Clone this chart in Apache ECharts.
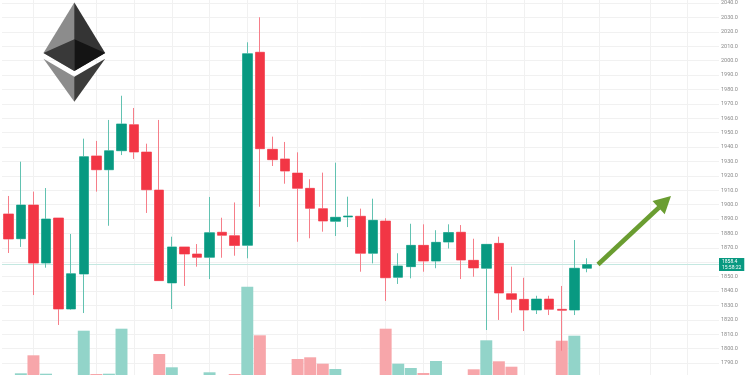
<!DOCTYPE html>
<html>
<head>
<meta charset="utf-8">
<script src="https://cdn.jsdelivr.net/npm/echarts@6/dist/echarts.min.js"></script>
<style>html,body{margin:0;padding:0;background:#fff;}#c{width:750px;height:375px;}</style>
</head>
<body>
<div id="c"></div>
<script>
// ---- data ----
const categories = ['1','2','3','4','5','6','7','8','9','10','11','12','13','14','15','16','17','18','19','20','21','22','23','24','25','26','27','28','29','30','31','32','33','34','35','36','37','38','39','40','41','42','43','44','45','46','47'];
const opens  = [1893.5,1876.3,1899.7,1859.4,1890.7,1827.5,1851.8,1933.8,1924.2,1937.4,1955.5,1936.5,1910.1,1845.6,1870.6,1865.7,1863.4,1880.8,1878.4,1871.7,2005.8,1938.4,1931.7,1921.9,1911.3,1897.2,1888.4,1891.4,1891.9,1866.2,1888.6,1849.5,1856.9,1871.7,1860.8,1874.0,1880.8,1861.3,1855.8,1873.1,1838.1,1834.2,1826.8,1834.4,1827.3,1826.8,1855.8];
const closes = [1876.1,1899.7,1859.4,1890.0,1827.5,1852.0,1933.3,1924.2,1937.4,1956.0,1936.5,1910.3,1847.2,1870.6,1865.7,1863.4,1880.5,1878.7,1871.6,2004.8,1938.8,1931.2,1923.3,1911.3,1897.4,1888.6,1891.2,1892.1,1866.2,1889.1,1849.2,1857.4,1871.7,1860.8,1873.8,1880.6,1861.5,1856.0,1872.4,1838.6,1834.2,1826.8,1834.4,1827.3,1826.6,1855.8,1858.4];
const lows   = [1866.4,1870.6,1837.2,1856.2,1816.4,1827.0,1824.7,1909.0,1885.3,1934.4,1931.7,1894.2,1847.2,1827.5,1843.5,1856.9,1848.3,1863.1,1864.5,1862.7,1898.5,1926.8,1914.5,1874.2,1876.6,1881.2,1878.2,1884.4,1853.4,1859.2,1833.1,1844.9,1848.8,1853.4,1855.8,1869.5,1848.3,1849.9,1812.9,1819.9,1824.9,1812.2,1824.0,1823.3,1798.5,1823.3,1853.0];
const highs  = [1906.0,1929.8,1909.0,1911.5,1890.7,1879.6,1945.8,1944.2,1958.8,1975.6,1967.1,1942.3,1958.8,1877.7,1870.6,1872.6,1905.3,1890.9,1901.5,2012.7,2030.1,1947.2,1943.5,1936.3,1917.6,1922.2,1929.1,1905.5,1897.2,1904.1,1890.5,1866.2,1886.7,1886.3,1882.2,1886.3,1885.8,1876.3,1872.6,1877.7,1856.9,1849.2,1836.7,1836.7,1843.5,1875.4,1862.7];
const volumes = [150,410,2210,370,120,180,4670,340,370,4870,150,200,2340,1010,160,120,510,140,340,9070,4210,180,200,1840,2010,1370,840,130,170,220,4870,1370,940,440,1640,150,200,810,3710,1610,1070,200,150,180,3670,4170,120];
const priceTicks = {min: 1780, max: 2050, step: 10};
const gridLineIndices = [2,7,10,13,16,19,23,26,30,33,38,41,44,47,51,54];
const countdown = '15:58:22';

// ---- styles ----
const UP = '#089981', DOWN = '#f23645';
const WICK_UP = '#62c2b1', WICK_DOWN = '#f67e89';
const VOL_UP = '#92d4c9', VOL_DOWN = '#f7a6aa';
const totalSlots = 57;
const axisCats = categories.concat(new Array(totalSlots - categories.length).fill(''));
const lastClose = closes[closes.length - 1];

const candleData = categories.map((c, i) => [opens[i], closes[i], lows[i], highs[i]]);
const volData = volumes.map((v, i) => ({
  value: v,
  itemStyle: { color: closes[i] >= opens[i] ? VOL_UP : VOL_DOWN }
}));

const chart = echarts.init(document.getElementById('c'), null, {renderer: 'canvas'});
const option = {
  animation: false,
  backgroundColor: '#ffffff',
  grid: { left: 2, right: 31, top: -11.4, bottom: -2.4, containLabel: false, outerBoundsMode: 'none' },
  xAxis: { type: 'category', data: axisCats, boundaryGap: true, show: false },
  yAxis: [
    {
      type: 'value', position: 'right', min: priceTicks.min, max: priceTicks.max, interval: priceTicks.step,
      axisLine: { show: false }, axisTick: { show: false },
      axisLabel: { fontSize: 5.5, color: '#8a8a8a', margin: 2, fontFamily: 'Roboto', formatter: v => v.toFixed(1) },
      splitLine: { lineStyle: { color: '#f1f1f1', width: 1 } }
    },
    { type: 'value', min: 0, max: 38880, show: false, splitLine: { show: false } }
  ],
  series: [
    {
      type: 'bar', name: 'Volume', xAxisIndex: 0, yAxisIndex: 1, data: volData,
      barWidth: '95%', z: 1, silent: true,
      markLine: {
        silent: true, symbol: 'none', z: 0, animation: false,
        label: { show: false },
        lineStyle: { color: '#f1f1f1', width: 1, type: 'solid' },
        data: gridLineIndices.map(i => ({ xAxis: i }))
      }
    },
    {
      type: 'candlestick', name: 'wick', data: candleData, barWidth: 10, z: 2, silent: true,
      itemStyle: { color: WICK_UP, color0: WICK_DOWN, borderColor: WICK_UP, borderColor0: WICK_DOWN, borderWidth: 1 }
    },
    {
      type: 'candlestick', name: 'ETHUSD', data: candleData, barWidth: 10, z: 3, silent: true,
      itemStyle: { color: UP, color0: DOWN, borderColor: UP, borderColor0: DOWN, borderWidth: 0 },
      markLine: {
        silent: true, symbol: 'none', z: 1, animation: false,
        lineStyle: { color: '#c4e8e1', width: 1, type: 'solid' },
        label: {
          show: true, position: 'end', distance: 0,
          formatter: () => lastClose.toFixed(1) + '\n' + countdown,
          backgroundColor: UP, color: '#ffffff', fontSize: 5, lineHeight: 5.5,
          fontFamily: 'Roboto', padding: [1, 3, 1, 3]
        },
        data: [{ yAxis: lastClose }]
      }
    }
  ],
  graphic: [
    {
      type: 'group', x: 43.5, y: 2.5, scaleX: 0.241, scaleY: 0.238, silent: true, z: 100,
      children: [
        { type: 'polygon', z: 100, shape: { points: [[127.96,0],[125.17,9.5],[125.17,285.17],[127.96,287.96],[255.92,212.32]] }, style: { fill: '#343434' } },
        { type: 'polygon', z: 100, shape: { points: [[127.96,0],[0,212.32],[127.96,287.96],[127.96,154.16]] }, style: { fill: '#8c8c8c' } },
        { type: 'polygon', z: 100, shape: { points: [[127.96,312.19],[126.39,314.11],[126.39,412.31],[127.96,416.91],[256,236.59]] }, style: { fill: '#3c3c3b' } },
        { type: 'polygon', z: 100, shape: { points: [[127.96,416.91],[127.96,312.19],[0,236.59]] }, style: { fill: '#8c8c8c' } },
        { type: 'polygon', z: 100, shape: { points: [[127.96,287.96],[255.92,212.32],[127.96,154.16]] }, style: { fill: '#141414' } },
        { type: 'polygon', z: 100, shape: { points: [[0,212.32],[127.96,287.96],[127.96,154.16]] }, style: { fill: '#393939' } }
      ]
    },
    { type: 'line', silent: true, z: 100, shape: { x1: 598, y1: 264.5, x2: 659, y2: 207.5 }, style: { stroke: '#6a9d31', lineWidth: 4.5 } },
    { type: 'polygon', silent: true, z: 100, shape: { points: [[671,196],[652.5,201],[664.7,214.2]] }, style: { fill: '#6a9d31' } }
  ]
};
chart.setOption(option);
</script>
</body>
</html>
